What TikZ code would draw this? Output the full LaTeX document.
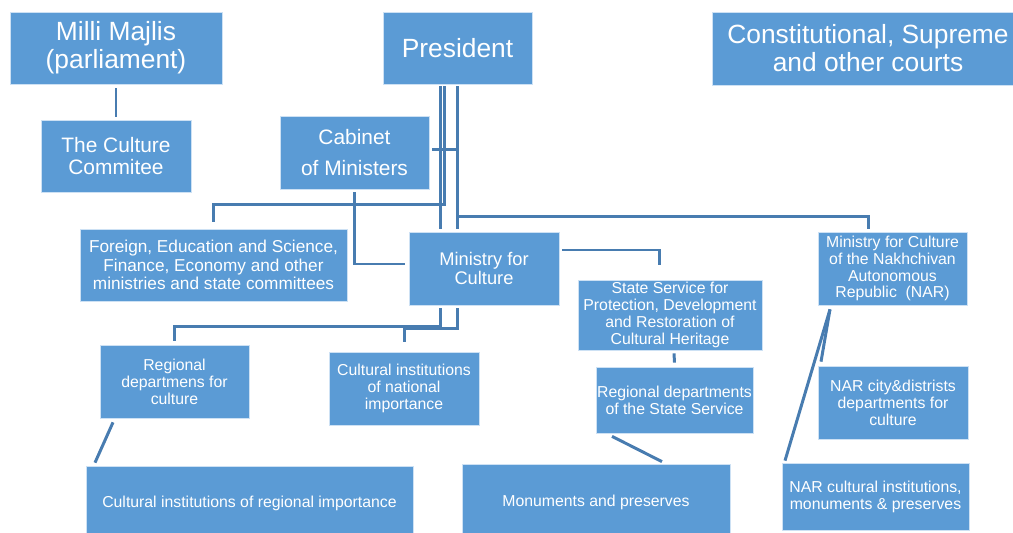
\documentclass[tikz,border=0pt]{standalone}
\usepackage{fontspec}
\setmainfont{Liberation Sans}
\usetikzlibrary{calc}
\definecolor{boxblue}{RGB}{91,155,213}
\definecolor{lineblue}{RGB}{72,124,176}
\definecolor{boxedge}{RGB}{205,225,244}
\begin{document}
\begin{tikzpicture}[x=0.02cm,y=-0.02cm,
  box/.style={draw=boxedge, line width=0.4pt, fill=boxblue, text=white, align=center, inner sep=0pt},
  sz/.style 2 args={minimum width={#1*0.02cm}, minimum height={#2*0.02cm}},
  fbig/.style={font=\fontsize{15}{16}\selectfont},
  fcab/.style={font=\fontsize{11.9}{18}\selectfont},
  fcom/.style={font=\fontsize{11.9}{12.5}\selectfont},
  fmin/.style={font=\fontsize{10.4}{10.6}\selectfont},
  ffor/.style={font=\fontsize{9.8}{10.5}\selectfont},
  fsm/.style={font=\fontsize{9}{9.6}\selectfont},
  conn/.style={draw=lineblue, line width=1.7pt}]
\useasboundingbox (0,0) rectangle (1013,533);

% boxes
\node[box, sz={212}{72}, fbig] (majlis) at (116,48) {Milli Majlis\\(parliament)};
\node[box, sz={150}{72}, fcom] (committee) at (116,156) {The Culture\\Commitee};
\node[box, sz={149}{72}, fbig] (president) at (457.5,48) {President};
\node[box, sz={312}{73}, fbig] (courts) at (868,48.5) {Constitutional, Supreme\\and other courts};
\node[box, sz={149}{73}, fcab] (cabinet) at (354.5,152.5) {Cabinet\\of Ministers};
\node[box, sz={267}{72}, ffor] (foreign) at (213.5,265) {Foreign, Education and Science,\\Finance, Economy and other\\ministries and state committees};
\node[box, sz={150}{73}, fmin] (ministry) at (484,268.5) {Ministry for\\Culture};
\node[box, sz={184}{70}, fsm] (stateservice) at (670,315) {State Service for\\Protection, Development\\and Restoration of\\Cultural Heritage};
\node[box, sz={149}{73}, fsm] (narmin) at (892.5,268.5) {Ministry for Culture\\of the Nakhchivan\\Autonomous\\Republic\ \ (NAR)};
\node[box, sz={149}{73}, fsm] (regional) at (174.5,381.5) {Regional\\departmens for\\culture};
\node[box, sz={150}{73}, fsm] (national) at (404,388.5) {Cultural institutions\\of national\\importance};
\node[box, sz={157}{66}, fsm] (regstate) at (674.5,400) {Regional departments\\of the State Service};
\node[box, sz={150}{73}, fsm] (narcity) at (893,402.5) {NAR city\&distrists\\departments for\\culture};
\node[box, sz={327}{74}, fsm] (regimp) at (249.5,503) {Cultural institutions of regional importance};
\node[box, sz={268}{76}, fsm] (monuments) at (596,502) {Monuments and preserves};
\node[box, sz={187}{67}, fsm] (narinst) at (875.5,496.5) {NAR cultural institutions,\\monuments \& preserves};

% connectors
\draw[conn] ($(majlis.south)+(0,4)$) -- ($(committee.north)+(0,-3)$);

\coordinate (pA) at ($(president.south)+(-17.5,2)$);
\coordinate (pB) at ($(president.south)+(-13.5,2)$);
\coordinate (pC) at ($(president.south)+(0,2)$);
\draw[conn] (pA) -- ($(pA |- ministry.north)+(0,-3)$);
\draw[conn] (pB) |- ($(foreign.north)+(0,-24)$) -- ($(foreign.north)+(0,-7)$);
\draw[conn] (pC) -- ($(pC |- ministry.north)+(0,-3)$);
\coordinate (pD) at ($(president.south)+(0,132)$);
\draw[conn] (pD) -| ($(narmin.north)+(-24.5,-3)$);
\coordinate (cabR) at ($(cabinet.east)+(3,-3)$);
\draw[conn] (cabR) -- (cabR -| pC);

\draw[conn] ($(cabinet.south)+(0,3)$) |- ($(ministry.west)+(-4,-4.5)$);
\draw[conn] ($(ministry.east)+(3,-18.5)$) -| ($(stateservice.north)+(-11,-15)$);

\draw[conn] ($(ministry.south)+(-44,3)$) -- ($(ministry.south)+(-44,21)$) -| ($(regional.north)+(0,-4)$);
\draw[conn] ($(ministry.south)+(-27,3)$) -- ($(ministry.south)+(-27,23)$) -| ($(national.north)+(0,-10)$);

\draw[conn] ($(stateservice.south)+(4,3)$) -- ($(regstate.north)+(0,-4)$);
\draw[conn] ($(regstate.south)+(-62.5,3)$) -- ($(monuments.north)+(66,-2)$);
\draw[conn] ($(regional.south)+(-61.5,4)$) -- ($(regimp.north)+(-154.5,-3)$);
\coordinate (narS) at ($(narmin.south)+(-62.5,4)$);
\draw[conn] (narS) -- ($(narcity.north)+(-72,-4)$);
\draw[conn] (narS) -- ($(narinst.north)+(-90.5,-2)$);
\end{tikzpicture}
\end{document}
